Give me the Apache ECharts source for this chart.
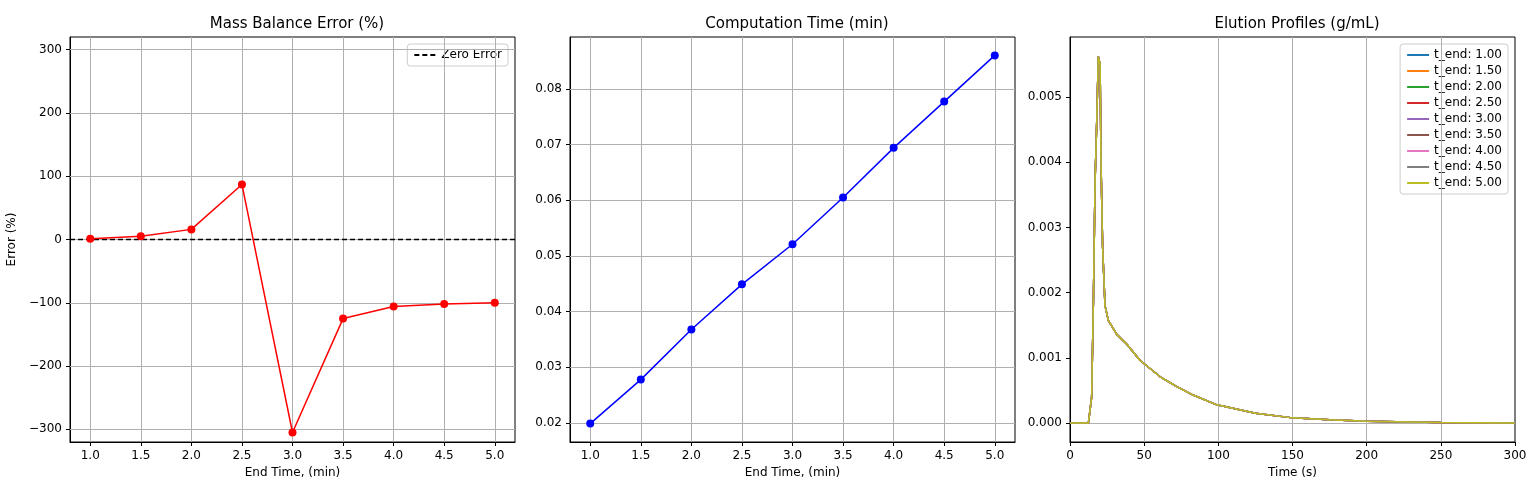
<!DOCTYPE html>
<html>
<head>
<meta charset="utf-8">
<script src="https://cdn.jsdelivr.net/npm/echarts@6/dist/echarts.min.js"></script>
<style>html,body{margin:0;background:#fff}#chart{width:1539px;height:500px}</style>
</head>
<body>
<div id="chart"></div>
<script>
const endTimes = [1.0, 1.5, 2.0, 2.5, 3.0, 3.5, 4.0, 4.5, 5.0];
const massError = [1, 5, 16, 87, -305, -125, -106, -102, -100];
const compTime = [0.0199, 0.0278, 0.0368, 0.0449, 0.0521, 0.0605, 0.0694, 0.0777, 0.0860];
const errorTicks = [-300, -200, -100, 0, 100, 200, 300];
const compTicks = [0.02, 0.03, 0.04, 0.05, 0.06, 0.07, 0.08];
const concTicks = [0, 0.001, 0.002, 0.003, 0.004, 0.005];
const profileTime = [0, 12.4, 14.6, 15.8, 16.9, 18, 19.1, 20.3, 20.9, 22, 23.6, 25.9, 31.5, 38.3, 47.3, 60.8, 72, 83, 99, 125, 150, 175, 200, 250, 300];
const profileConc = [0, 0, 0.0004, 0.0019, 0.0037, 0.0046, 0.00562, 0.0055, 0.004, 0.0027, 0.0018, 0.00157, 0.00136, 0.00121, 0.00096, 0.00071, 0.00056, 0.00043, 0.00028, 0.00015, 0.00008, 0.00005, 0.00003, 0.00001, 0];
const profileLabels = ['t_end: 1.00', 't_end: 1.50', 't_end: 2.00', 't_end: 2.50', 't_end: 3.00', 't_end: 3.50', 't_end: 4.00', 't_end: 4.50', 't_end: 5.00'];
const profileColors = ['#1f77b4', '#ff7f0e', '#2ca02c', '#d62728', '#9467bd', '#8c564b', '#e377c2', '#7f7f7f', '#bcbd22'];

const font = 'DejaVu Sans';
const txt = { color: '#000', fontFamily: font, fontSize: 12 };
const gridLine = { color: '#b0b0b0', type: 'solid', width: 1 };
const zip = (a, b) => a.map((v, i) => [v, b[i]]);
const minus = v => String(v).replace('-', '\u2212');

function axis(idx, min, max, ticks, fmt, name, gap) {
  return {
    type: 'value', gridIndex: idx, min, max, name, nameLocation: 'middle', nameGap: gap, nameTextStyle: txt,
    axisLabel: Object.assign({ formatter: fmt, customValues: ticks, showMinLabel: true, showMaxLabel: true }, txt),
    axisLine: { show: true, onZero: false, lineStyle: { color: '#000' } },
    axisTick: { show: true, length: 4, customValues: ticks, lineStyle: { color: '#000' } },
    splitLine: { show: false }
  };
}
function gridSeries(i, xs, ys) {
  return { type: 'line', xAxisIndex: i, yAxisIndex: i, data: [], silent: true, z: 0,
    markLine: { symbol: 'none', silent: true, animation: false, label: { show: false }, lineStyle: gridLine,
      data: xs.map(v => ({ xAxis: v })).concat(ys.map(v => ({ yAxis: v }))) } };
}

const series = [
  gridSeries(0, endTimes, errorTicks),
  gridSeries(1, endTimes, compTicks),
  gridSeries(2, [50, 100, 150, 200, 250], concTicks),
  { type: 'line', name: 'Zero Error', xAxisIndex: 0, yAxisIndex: 0, data: [[0.8, 0], [5.2, 0]], symbol: 'none',
    lineStyle: { color: '#000', type: [5, 3], width: 1.5 }, itemStyle: { color: '#000' }, z: 5 },
  { type: 'line', xAxisIndex: 0, yAxisIndex: 0, data: zip(endTimes, massError), symbol: 'circle', symbolSize: 8,
    lineStyle: { color: '#ff0000', width: 1.5 }, itemStyle: { color: '#ff0000' }, z: 6 },
  { type: 'line', xAxisIndex: 1, yAxisIndex: 1, data: zip(endTimes, compTime), symbol: 'circle', symbolSize: 8,
    lineStyle: { color: '#0000ff', width: 1.5 }, itemStyle: { color: '#0000ff' }, z: 6 }
];
profileLabels.forEach((name, i) => series.push({
  type: 'line', name, xAxisIndex: 2, yAxisIndex: 2, data: zip(profileTime, profileConc), symbol: 'none',
  lineStyle: { color: profileColors[i], width: 1.5 }, itemStyle: { color: profileColors[i] }, z: 5 + i
}));

const legendBox = { backgroundColor: '#fff', borderColor: '#ccc', borderWidth: 1, borderRadius: 3, orient: 'vertical',
  textStyle: txt, itemWidth: 22, itemHeight: 2, itemGap: 4, padding: [5, 6] };

const option = {
  animation: false,
  textStyle: { fontFamily: font },
  title: [
    { text: 'Mass Balance Error (%)', left: 292, top: 12, textAlign: 'center' },
    { text: 'Computation Time (min)', left: 792, top: 12, textAlign: 'center' },
    { text: 'Elution Profiles (g/mL)', left: 1292, top: 12, textAlign: 'center' }
  ].map(t => Object.assign(t, { textStyle: { fontFamily: font, fontSize: 15, fontWeight: 'normal', color: '#000' } })),
  legend: [
    Object.assign({ data: ['Zero Error'], right: 1539 - 508, top: 44 }, legendBox),
    Object.assign({ data: profileLabels, right: 1539 - 1508, top: 44 }, legendBox)
  ],
  grid: [
    { left: 70, width: 445, top: 37, height: 405 },
    { left: 570, width: 445, top: 37, height: 405 },
    { left: 1070, width: 445, top: 37, height: 405 }
  ].map(g => Object.assign(g, { show: true, borderColor: '#000', borderWidth: 1, backgroundColor: 'transparent' })),
  xAxis: [
    axis(0, 0.8, 5.2, endTimes, v => v.toFixed(1), 'End Time, (min)', 24),
    axis(1, 0.8, 5.2, endTimes, v => v.toFixed(1), 'End Time, (min)', 24),
    axis(2, 0, 300, [0, 50, 100, 150, 200, 250, 300], v => String(v), 'Time (s)', 24)
  ],
  yAxis: [
    axis(0, -320, 320, errorTicks, minus, 'Error (%)', 52),
    axis(1, 0.0166, 0.0893, compTicks, v => v.toFixed(2), '', 50),
    axis(2, -0.00029, 0.00592, concTicks, v => v.toFixed(3), '', 50)
  ],
  series
};

const chart = echarts.init(document.getElementById('chart'));
chart.setOption(option);
</script>
</body>
</html>
